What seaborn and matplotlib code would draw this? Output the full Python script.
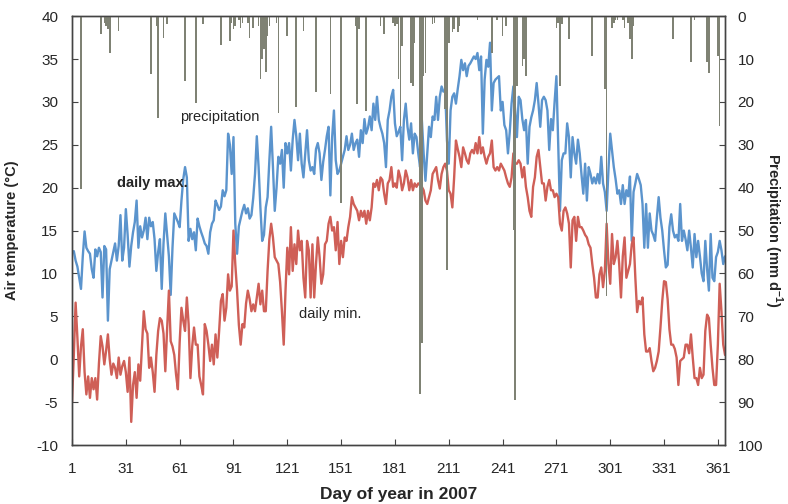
import numpy as np
import pandas as pd
import matplotlib
matplotlib.use("Agg")
import matplotlib.pyplot as plt
import seaborn as sns

# daily air temperature (deg C), day 1..365 of 2007
tmax = [
    12.5, 12.6, 11.5, 10.8, 9.5, 8.2, 12.0, 14.9, 13.0, 12.6,
    12.3, 10.5, 9.5, 12.8, 12.0, 13.0, 12.5, 7.2, 13.2, 12.8,
    4.5, 10.5, 11.5, 12.5, 13.5, 11.5, 13.2, 16.8, 11.5, 13.0,
    17.5, 14.5, 10.8, 13.2, 14.8, 16.0, 18.5, 13.0, 15.5, 14.2,
    15.0, 16.5, 14.0, 16.5, 15.5, 16.0, 14.0, 10.3, 12.5, 14.0,
    8.2, 13.5, 17.0, 14.5, 12.0, 7.5, 13.0, 17.0, 16.5, 16.0,
    15.4, 18.5, 21.0, 22.4, 21.2, 13.8, 15.2, 14.0, 14.8, 12.7,
    16.4, 15.5, 14.8, 14.2, 13.5, 13.2, 12.3, 14.8, 15.8, 16.2,
    18.5, 18.0, 17.4, 17.8, 19.7, 19.0, 19.7, 26.3, 25.0, 21.6,
    25.9, 15.8, 12.3, 15.5, 16.4, 17.3, 18.0, 17.0, 17.6, 16.4,
    16.8, 18.8, 21.6, 26.0, 22.4, 17.7, 13.8, 14.5, 17.7, 18.9,
    23.2, 27.1, 22.4, 17.3, 20.0, 23.6, 22.8, 24.4, 20.0, 25.2,
    24.0, 25.2, 22.0, 25.6, 27.9, 26.0, 23.2, 26.3, 22.8, 21.2,
    24.0, 26.7, 23.2, 22.0, 22.4, 21.6, 24.5, 25.2, 24.0, 20.9,
    23.0, 24.4, 26.0, 27.1, 19.1, 25.9, 29.0, 23.2, 21.6, 22.0,
    22.8, 23.6, 24.4, 26.0, 24.4, 25.0, 26.3, 24.4, 25.2, 25.6,
    23.6, 26.7, 25.2, 28.0, 26.3, 27.0, 28.3, 26.7, 29.8, 27.9,
    30.6, 27.9, 27.0, 26.3, 25.2, 22.4, 27.9, 29.0, 30.6, 31.4,
    27.5, 26.0, 26.5, 27.1, 23.2, 27.9, 29.8, 27.1, 25.6, 27.5,
    24.0, 26.3, 25.9, 24.0, 22.4, 27.9, 24.0, 20.8, 24.0, 27.1,
    25.9, 28.3, 27.9, 30.6, 27.9, 30.6, 31.8, 31.2, 31.4, 25.5,
    22.8, 29.0, 30.6, 31.0, 29.8, 31.5, 33.0, 34.9, 33.7, 34.5,
    33.0, 34.2, 34.5, 34.9, 35.3, 35.0, 35.7, 33.7, 35.3, 26.3,
    32.6, 34.9, 34.1, 36.9, 29.0, 32.2, 32.6, 32.8, 33.0, 29.0,
    30.0, 27.3, 26.7, 24.0, 26.5, 29.8, 31.8, 29.0, 25.9, 30.6,
    30.2, 28.0, 26.7, 27.9, 22.8, 27.1, 28.2, 29.0, 30.2, 32.2,
    29.8, 27.1, 30.2, 30.6, 30.2, 29.0, 24.4, 28.0, 26.7, 30.0,
    33.0, 25.0, 17.3, 23.2, 24.0, 24.0, 27.5, 25.9, 21.2, 25.9,
    24.0, 22.8, 25.6, 24.0, 21.5, 19.3, 22.8, 18.5, 22.4, 21.6,
    20.5, 21.2, 20.5, 21.6, 20.5, 23.6, 20.5, 19.5, 17.3, 22.0,
    26.3, 24.4, 22.4, 21.0, 19.3, 19.7, 18.1, 20.3, 18.1, 19.7,
    19.0, 21.3, 13.8, 19.5, 20.5, 21.6, 21.0, 20.3, 18.1, 13.0,
    18.1, 13.0, 17.0, 15.0, 14.5, 13.8, 16.5, 18.9, 16.5, 15.0,
    12.7, 10.7, 11.0, 15.4, 16.9, 15.0, 14.2, 14.5, 13.8, 18.1,
    13.8, 15.0, 14.0, 12.7, 15.0, 13.0, 10.7, 14.6, 11.9, 13.8,
    12.0, 10.0, 9.1, 13.8, 10.5, 8.0, 14.6, 9.5, 9.1, 11.9,
    12.5, 13.8, 12.7, 11.1, 12.0,
]

tmin = [
    -5.0, 0.5, 6.6, 2.5, -2.0, 1.5, 3.5, -1.5, -4.1, -2.0,
    -4.5, -2.2, -3.5, -2.2, -4.7, -0.5, 2.7, 1.5, -0.6, 1.0,
    2.9, 0.0, -1.8, -0.5, -1.0, -2.2, 0.2, -1.8, -0.8, -0.2,
    -1.5, -3.8, 0.2, -7.3, -3.0, -1.5, -4.5, -0.6, -2.5, 1.5,
    5.6, 3.5, 3.0, -1.0, 0.2, -1.5, -3.8, 0.5, 3.3, 4.8,
    4.5, 3.0, -1.4, 3.5, 8.0, 2.1, 1.5, 0.5, -1.8, -3.5,
    2.0, 6.0, 4.5, 3.3, 7.2, 4.1, -2.2, 1.5, 3.7, 1.7,
    1.7, -2.0, -3.0, -4.1, 4.1, 3.3, 1.7, -0.2, 1.7, -0.6,
    2.9, 0.2, 3.3, 6.8, 7.6, 4.5, 6.0, 9.9, 8.0, 8.5,
    15.0, 11.1, 8.0, 4.0, 1.7, 4.1, 3.7, 6.5, 8.0, 7.0,
    5.6, 6.4, 5.6, 7.2, 8.8, 6.4, 8.0, 5.6, 5.6, 10.3,
    14.0, 15.8, 14.2, 11.9, 11.5, 11.1, 9.0, 5.6, 1.7, 8.0,
    13.0, 9.9, 15.4, 10.3, 13.4, 11.1, 15.0, 12.7, 13.8, 9.5,
    7.2, 13.8, 12.7, 7.2, 13.4, 7.2, 11.1, 14.2, 11.9, 8.8,
    9.9, 13.4, 13.8, 15.8, 16.6, 15.0, 15.4, 12.7, 16.0, 11.1,
    13.8, 11.9, 14.2, 13.8, 15.4, 16.6, 18.9, 18.1, 17.7, 17.3,
    16.2, 17.3, 16.6, 17.3, 15.8, 17.3, 16.2, 17.7, 20.5, 20.1,
    20.9, 19.7, 21.2, 20.9, 19.3, 18.1, 20.5, 20.9, 22.4, 20.1,
    20.5, 20.0, 22.0, 21.2, 19.7, 20.5, 22.0, 21.2, 19.7, 20.9,
    19.7, 20.5, 20.1, 20.5, 20.3, 20.1, 19.7, 18.5, 18.1, 18.9,
    19.7, 21.6, 22.0, 22.4, 20.9, 19.9, 21.6, 22.4, 22.8, 22.0,
    19.7, 19.3, 17.7, 21.2, 25.5, 24.5, 23.6, 22.4, 24.7, 24.0,
    23.2, 22.8, 24.0, 24.4, 24.0, 25.2, 24.0, 25.9, 24.0, 24.7,
    23.6, 22.8, 23.6, 24.0, 25.5, 22.4, 22.0, 22.4, 22.0, 22.8,
    22.4, 22.0, 21.2, 20.5, 20.1, 21.2, 24.0, 22.8, 22.8, 23.2,
    22.8, 21.2, 22.4, 20.1, 18.9, 17.3, 16.6, 20.1, 21.2, 23.6,
    24.4, 22.4, 20.5, 20.5, 18.5, 20.1, 20.9, 19.7, 19.7, 18.9,
    19.3, 18.9, 15.8, 15.0, 17.3, 17.7, 17.0, 15.8, 10.7, 16.2,
    16.6, 13.8, 16.6, 15.4, 15.4, 15.0, 14.5, 14.2, 13.4, 13.0,
    11.1, 9.5, 7.2, 7.2, 9.9, 10.7, 8.4, 10.3, 15.8, 11.1,
    8.8, 14.6, 11.1, 11.9, 13.8, 11.1, 7.2, 12.0, 14.2, 9.5,
    10.3, 11.1, 13.4, 14.2, 9.5, 5.5, 6.8, 6.4, 7.2, 2.9,
    0.9, 0.9, 1.3, -0.2, -1.4, -1.0, -0.2, 0.9, 3.7, 6.8,
    9.1, 9.0, 7.0, 3.5, 1.7, 1.7, 1.2, 0.2, -3.0, -0.2,
    0.0, 0.2, 1.7, 1.7, 0.7, 2.9, 0.2, -2.2, -2.2, -3.0,
    -1.0, -2.2, -1.8, 3.3, 5.2, 4.8, 1.7, -1.0, -3.0, -3.0,
    1.7, 8.8, 5.6, 1.7, 0.5,
]

# precipitation (mm per day), only days with rain
rain_day = [
    6, 17, 19, 20, 21, 22, 27, 40, 45, 48, 49, 52, 54,
    64, 70, 74, 84, 89, 90, 91, 92, 94, 95, 96, 99, 100, 102, 105, 106,
    107, 108, 109, 110, 111, 115, 116, 121,
    126, 130, 137, 145, 151, 159, 160, 161, 165, 173, 175, 180, 181, 182,
    183, 184, 185,
    190, 191, 192, 195, 196, 197, 198, 202, 203, 209, 210, 211, 213, 214,
    216, 217, 227, 235, 238, 241, 243,
    247, 248, 249, 252, 253, 254, 271, 272, 273, 274, 278, 291, 298, 299,
    302, 303, 304, 305,
    308, 309, 311, 312, 313, 314, 336, 341, 346, 348, 355, 356, 361, 362,
]
rain_mm = [
    40.4, 4.2, 1.5, 2.3, 3.0, 8.5, 3.4, 0.3, 13.5, 2.3, 23.7, 5.0, 1.9,
    15.1, 20.2, 1.9, 6.8, 5.8, 1.5, 3.0, 2.3, 0.8, 2.7, 1.5, 1.5, 5.0, 2.7, 2.3, 14.7,
    10.0, 7.7, 13.0, 4.6, 2.3, 1.5, 22.5, 4.6,
    21.3, 3.4, 17.8, 18.2, 43.5, 2.3, 20.6, 3.0, 22.1, 2.3, 4.2, 1.5, 2.3, 1.9,
    14.7, 25.6, 7.0,
    15.5, 16.3, 6.2, 88.0, 76.2, 14.0, 13.2, 1.9, 1.5, 21.7, 59.1, 6.2, 3.8, 3.0,
    3.8, 2.3, 1.0, 8.5, 0.8, 4.6, 2.3,
    49.8, 89.5, 16.3, 11.6, 10.0, 13.9, 2.7, 1.5, 16.3, 1.9, 5.4, 9.3, 17.1, 65.3,
    2.7, 1.5, 0.8, 1.0,
    0.8, 2.7, 1.5, 5.4, 10.0, 2.3, 5.4, 0.3, 10.8, 0.8, 10.8, 13.2, 9.3, 25.6,
]

day_ticks = list(range(1, 362, 30))

df = pd.DataFrame({"day": np.arange(1, 366), "tmax": tmax, "tmin": tmin})

sns.set_style("ticks")
plt.rcParams["font.family"] = ["Liberation Sans", "DejaVu Sans"]
plt.rcParams["axes.unicode_minus"] = False
plt.rcParams["mathtext.fontset"] = "custom"
plt.rcParams["mathtext.rm"] = "Liberation Sans"
plt.rcParams["mathtext.bf"] = "Liberation Sans:bold"

fig = plt.figure(figsize=(7.88, 5.04), dpi=100)
ax = fig.add_axes([0.0914, 0.117, 0.8287, 0.851])

sns.lineplot(data=df, x="day", y="tmax", ax=ax, color="#5b94cd", lw=1.7)
sns.lineplot(data=df, x="day", y="tmin", ax=ax, color="#cf5f57", lw=1.7)

ax.set_xlim(1, 365)
ax.set_ylim(-10, 40)
ax.set_xticks(day_ticks)
ax.set_xticklabels([str(d) for d in day_ticks], fontsize=11)
ax.set_yticks(range(-10, 41, 5))
ax.set_xlabel("Day of year in 2007", fontsize=12.5, fontweight="bold", labelpad=8)
ax.set_ylabel("Air temperature (°C)", fontsize=10.5, fontweight="bold", labelpad=12)
ax.tick_params(axis="both", direction="in", length=4, color="#444444")
ax.tick_params(axis="x", pad=12)
ax.tick_params(axis="y", pad=10, labelsize=11)

ax.text(46, 20.5, "daily max.", fontsize=10.5, fontweight="bold", ha="center", va="center")
ax.text(83.5, 28.2, "precipitation", fontsize=10.5, ha="center", va="center")
ax.text(145, 5.3, "daily min.", fontsize=10.5, ha="center", va="center")

ax2 = ax.twinx()
ax2.bar(rain_day, rain_mm, width=0.9, color="#7f8274", linewidth=0)
ax2.set_ylim(100, 0)
ax2.set_yticks(range(0, 101, 10))
ax2.set_ylabel(r"Precipitation (mm d$^{\mathbf{-1}}$)", fontsize=10.5,
               fontweight="bold", rotation=270, labelpad=15)
ax2.tick_params(axis="y", direction="in", length=4, color="#444444",
                labelsize=11, pad=9)

for a in (ax, ax2):
    for s in a.spines.values():
        s.set_visible(True)
        s.set_color("#444444")
        s.set_linewidth(1.0)

fig.savefig("out.png", dpi=100)
